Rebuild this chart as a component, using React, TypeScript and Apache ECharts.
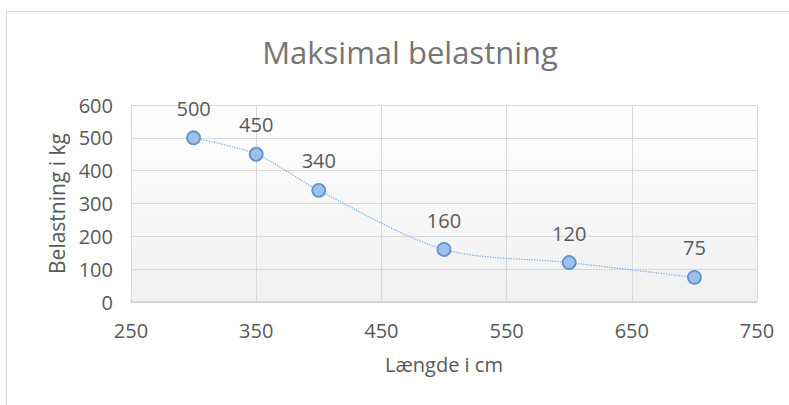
import React, { useEffect, useRef } from "react";
import * as echarts from "echarts";

const title = "Maksimal belastning";
const xName = "Længde i cm";
const yName = "Belastning i kg";
const lengths = [300, 350, 400, 500, 600, 700];
const loads = [500, 450, 340, 160, 120, 75];

export default function App() {
  const ref = useRef<HTMLDivElement>(null);
  useEffect(() => {
    if (!ref.current) return;
    const chart = echarts.init(ref.current, undefined, { renderer: "svg" });
    const font = "'Open Sans', sans-serif";
    const textColor = "#595959";
    chart.setOption({
      animation: false,
      backgroundColor: "#ffffff",
      title: {
        text: title,
        left: 405,
        top: 31,
        textAlign: "center",
        textStyle: { fontFamily: font, fontSize: 31, fontWeight: "normal", color: "#757575" },
      },
      graphic: [
        {
          type: "rect",
          shape: { x: 6.5, y: 11.5, width: 800, height: 500 },
          style: { fill: "none", stroke: "#d9d9d9", lineWidth: 1 },
          silent: true,
          z: -1,
        },
      ],
      grid: {
        left: 131,
        right: 32,
        top: 105,
        bottom: 103,
        show: true,
        borderWidth: 0,
        backgroundColor: new echarts.graphic.LinearGradient(0, 0, 0, 1, [
          { offset: 0, color: "#ffffff" },
          { offset: 1, color: "#f0f0f0" },
        ]),
      },
      xAxis: {
        type: "value",
        min: 250,
        max: 750,
        interval: 100,
        name: xName,
        nameLocation: "middle",
        nameGap: 52,
        nameTextStyle: { fontFamily: font, fontSize: 20, color: textColor },
        axisLine: { show: true, lineStyle: { color: "#d0d0d0", width: 1.5 } },
        axisTick: { show: false },
        axisLabel: { fontFamily: font, fontSize: 20, color: textColor, margin: 18 },
        splitLine: { show: true, lineStyle: { color: "#d9d9d9", width: 1 } },
      },
      yAxis: {
        type: "value",
        min: 0,
        max: 600,
        interval: 100,
        name: yName,
        nameLocation: "middle",
        nameGap: 63,
        nameTextStyle: { fontFamily: font, fontSize: 21, color: textColor },
        axisLine: { show: true, lineStyle: { color: "#d9d9d9", width: 1 } },
        axisTick: { show: false },
        axisLabel: { fontFamily: font, fontSize: 20, color: textColor, margin: 18 },
        splitLine: { show: true, lineStyle: { color: "#d9d9d9", width: 1 } },
      },
      series: [
        {
          type: "line",
          data: lengths.map((x, i) => [x, loads[i]]),
          smooth: 0.3,
          symbol: "circle",
          symbolSize: 13,
          itemStyle: { color: "#9fc0e8", borderColor: "#5b93d3", borderWidth: 1.8 },
          lineStyle: { color: "#7fb0e0", width: 1.3, type: "dotted" },
          label: {
            show: true,
            position: "top",
            distance: 12,
            fontFamily: font,
            fontSize: 20,
            color: textColor,
          },
        },
      ],
    });
    return () => chart.dispose();
  }, []);
  return (
    <div
      ref={ref}
      style={{ position: "fixed", left: 0, top: 0, width: 789, height: 405 }}
    />
  );
}
